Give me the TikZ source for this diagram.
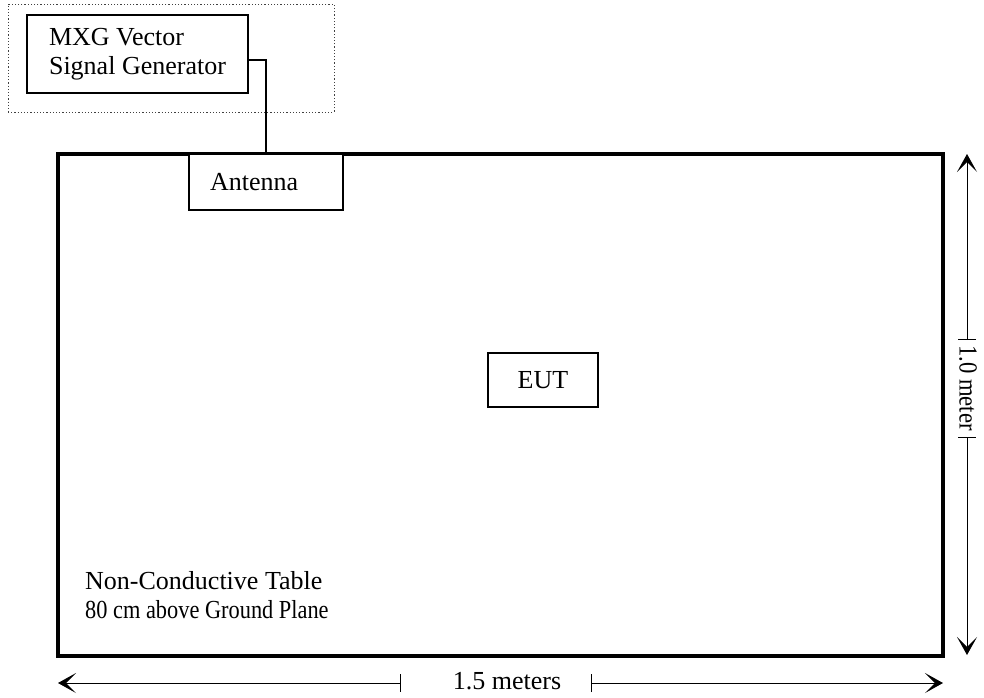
\documentclass[tikz,border=0pt]{standalone}
\usepackage{fontspec}
\usepackage{graphicx}
\setmainfont{Liberation Serif}
\usetikzlibrary{arrows.meta}

\begin{document}
\begin{tikzpicture}[x=1pt, y=-1pt,
		box/.style={draw, line width=1.2pt, inner sep=0pt, outer sep=0pt},
		dimline/.style={line width=0.9pt, {Bar[width=18pt]}-{Stealth[length=18pt, width=20pt, inset=10pt]}},
		every node/.style={font=\fontsize{26}{29}\selectfont}]
			%%%%% START %%%%%
			
			\useasboundingbox (0, 0) rectangle (984, 697);
			
			\node[box, dotted, draw=black!75, line width=0.8pt, minimum width=326pt, minimum height=108pt] (setup) at (171, 58) {};
			\node[box, minimum width=221pt, minimum height=78pt, align=left] (mxg) at (137.5, 54) {MXG Vector\\Signal Generator};
			
			\node[draw, line width=3.2pt, inner sep=0pt, outer sep=0pt, minimum width=885pt, minimum height=502pt] (table) at (500.5, 405) {};
			
			\node[box, fill=white, minimum width=154pt, minimum height=56pt, inner xsep=21pt, text width=112pt, align=left] (ant) at (266, 182) {Antenna};
			\draw[line width=1.2pt] (mxg.east) ++(0, 6) -| (ant.north);
			
			\node[box, minimum width=110pt, minimum height=54pt] (eut) at (543, 380) {EUT};
			
			\node[anchor=base west, align=left, inner sep=0pt] (tablenote) at (85, 618) {Non-Conductive Table\\\scalebox{0.86}[1]{80 cm above Ground Plane}};
			
			\coordinate (hleft) at (58, 683);
			\coordinate (hright) at (943, 683);
			\coordinate (vtop) at (967, 154);
			\coordinate (vbot) at (967, 655);
			
			\node[anchor=base] (hlabel) at (507, 689) {1.5 meters};
			\draw[dimline] (401, 683) -- (hleft);
			\draw[dimline] (591, 683) -- (hright);
			
			\node[rotate=-90] (vlabel) at (968, 388) {\scalebox{0.87}[1]{1.0 meter}};
			\draw[dimline] (967, 340) -- (vtop);
			\draw[dimline] (967, 437) -- (vbot);
			
			%%%%% END %%%%%
		\end{tikzpicture}
\end{document}
